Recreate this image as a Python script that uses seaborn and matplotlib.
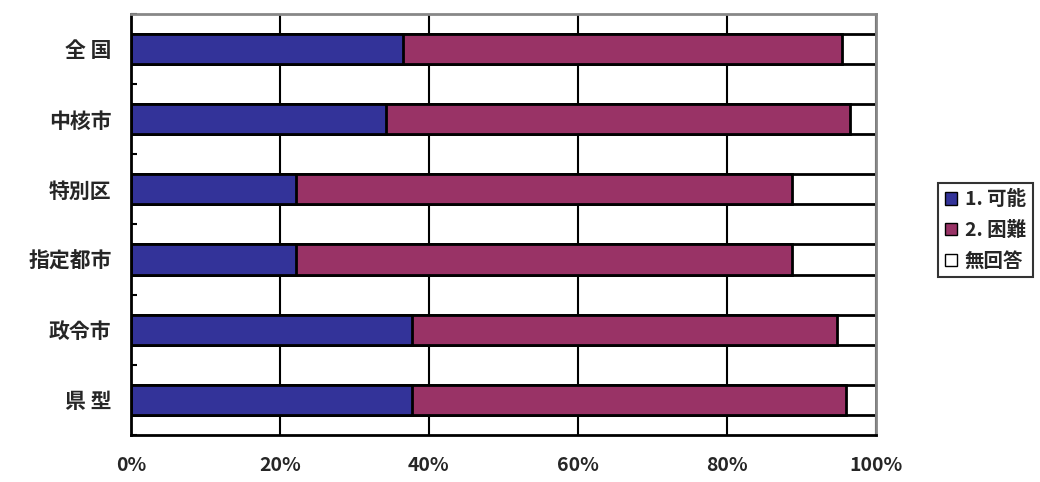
import matplotlib
matplotlib.use("Agg")
import matplotlib.pyplot as plt
import seaborn as sns
import pandas as pd
import numpy as np
from matplotlib.patches import Patch

sns.set_theme(style="white")
plt.rcParams['font.family'] = ['Noto Sans CJK JP', 'DejaVu Sans']

categories = ["全 国", "中核市", "特別区", "指定都市", "政令市", "県 型"]
possible = [36.5, 34.3, 22.1, 22.1, 37.7, 37.7]
difficult = [59.0, 62.2, 66.7, 66.6, 57.1, 58.3]
no_answer = [4.5, 3.5, 11.2, 11.3, 5.2, 4.0]
series_names = ["1. 可能", "2. 困難", "無回答"]
colors = ["#333399", "#993366", "#ffffff"]
tick_labels = ["0%", "20%", "40%", "60%", "80%", "100%"]

df = pd.DataFrame({"cat": categories, "p": possible, "d": difficult, "n": no_answer})
df["c1"] = df["p"]
df["c2"] = df["p"] + df["d"]
df["c3"] = df["p"] + df["d"] + df["n"]

fig = plt.figure(figsize=(10.4, 4.82), dpi=100)
ax = fig.add_axes([0.126, 0.0975, 0.716, 0.874])

for col, color in zip(["c3", "c2", "c1"], [colors[2], colors[1], colors[0]]):
    sns.barplot(data=df, y="cat", x=col, orient="h", color=color, ax=ax,
                width=0.43, edgecolor="black", linewidth=2, saturation=1)

ax.set_xlim(0, 100)
ax.set_ylim(len(categories) - 0.5, -0.5)
ax.set_xticks(np.linspace(0, 100, len(tick_labels)))
ax.set_xticklabels(tick_labels, fontsize=14, fontweight="bold")
ax.set_yticks(range(len(categories)))
ax.set_yticklabels(categories, fontsize=15, fontweight="bold")
ax.set_yticks(np.arange(-0.5, len(categories), 1), minor=True)
ax.tick_params(axis="y", which="minor", direction="in", length=4, width=1.5, color="black", left=True)
ax.tick_params(axis="y", which="major", length=0, pad=14)
ax.tick_params(axis="x", which="major", length=0, pad=15)
ax.set_xlabel("")
ax.set_ylabel("")
ax.xaxis.grid(True, color="black", linewidth=1.5)
ax.set_axisbelow(True)
for s in ["left", "bottom"]:
    ax.spines[s].set_color("black")
    ax.spines[s].set_linewidth(2)
for s in ["top", "right"]:
    ax.spines[s].set_color("#888888")
    ax.spines[s].set_linewidth(2)

handles = [Patch(facecolor=c, edgecolor="black", linewidth=1) for c in colors]
leg = fig.legend(handles, series_names, loc="upper left", bbox_to_anchor=(0.893, 0.64),
                 frameon=True, fancybox=False, edgecolor="black", handlelength=0.6,
                 handleheight=0.6, handletextpad=0.4, borderpad=0.35, labelspacing=0.6,
                 prop={"size": 14, "weight": "bold"})
leg.get_frame().set_linewidth(1.5)

fig.savefig("out.png", dpi=100)
